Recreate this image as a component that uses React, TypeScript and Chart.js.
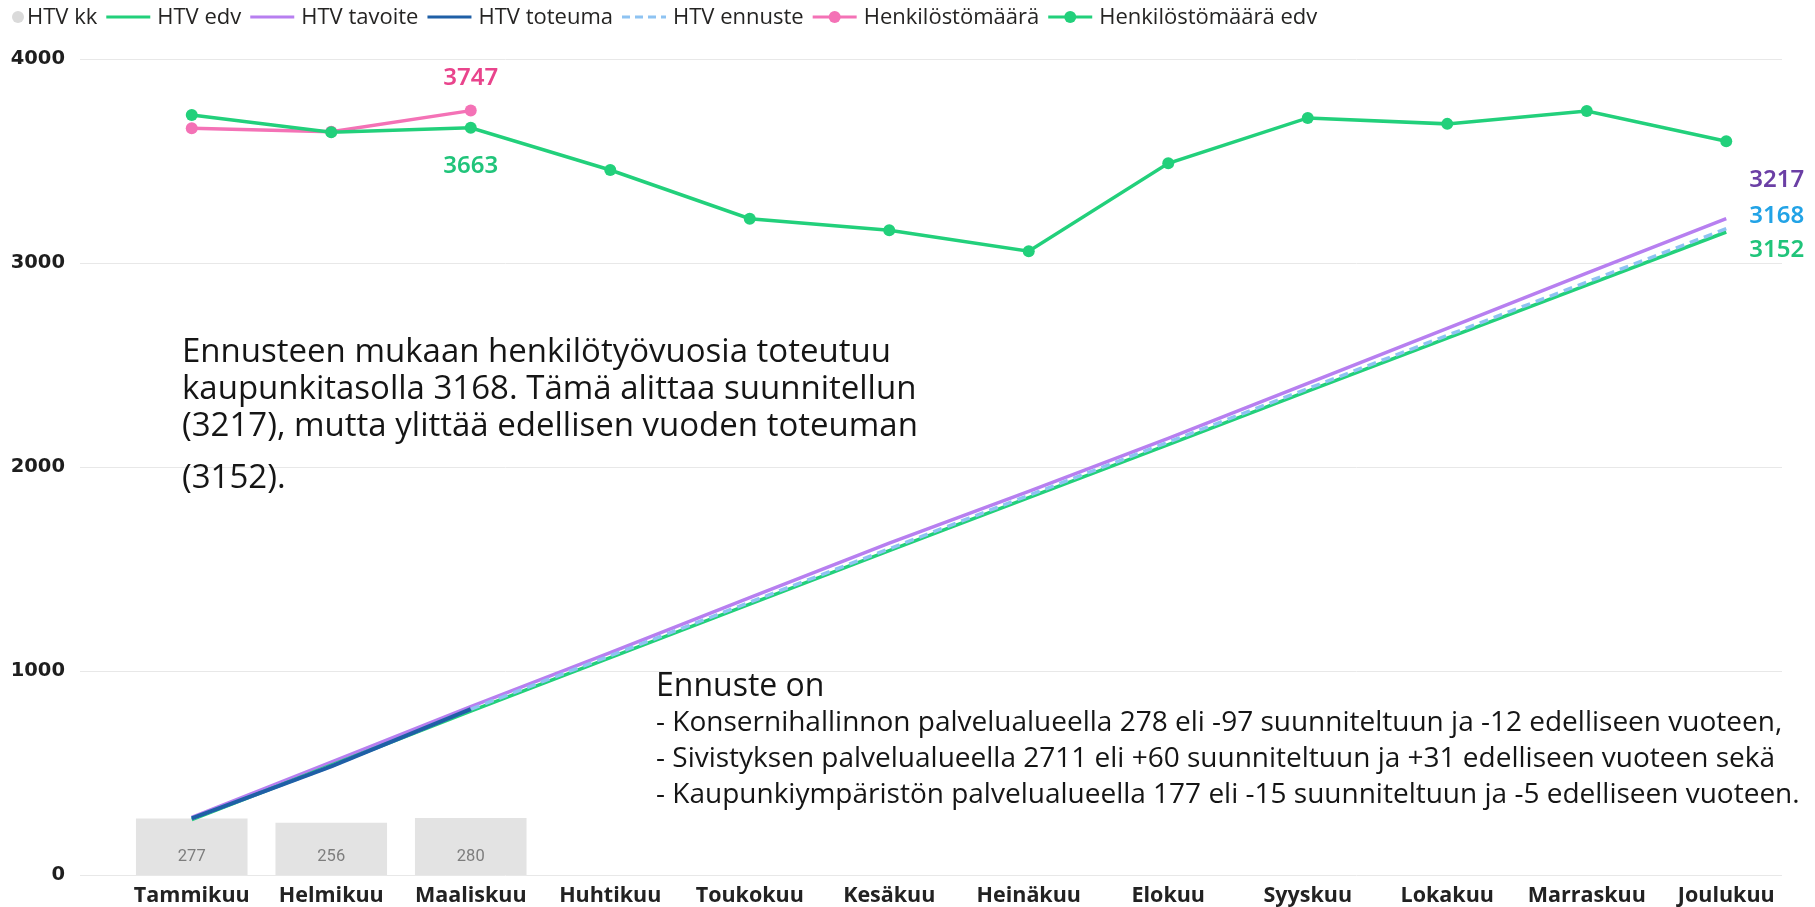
import React, { useEffect, useRef } from 'react';
import { Chart, registerables } from 'chart.js';

Chart.register(...registerables);

// ---------- data ----------
const months = ['Tammikuu', 'Helmikuu', 'Maaliskuu', 'Huhtikuu', 'Toukokuu', 'Kesäkuu', 'Heinäkuu', 'Elokuu', 'Syyskuu', 'Lokakuu', 'Marraskuu', 'Joulukuu'];
const htvKk = [277, 256, 280, null, null, null, null, null, null, null, null, null];
const htvEdv = [272, 538, 803, 1066, 1328, 1590, 1850, 2110, 2372, 2632, 2892, 3152];
const htvTavoite = [283, 553, 825, 1090, 1360, 1627, 1880, 2140, 2410, 2680, 2950, 3217];
const htvToteuma = [277, 533, 813, null, null, null, null, null, null, null, null, null];
const htvEnnuste = [277, 533, 813, 1075, 1337, 1599, 1861, 2122, 2384, 2645, 2906, 3168];
const henkilosto = [3660, 3643, 3747, null, null, null, null, null, null, null, null, null];
const henkilostoEdv = [3725, 3641, 3663, 3456, 3217, 3160, 3058, 3489, 3711, 3682, 3745, 3597];
const yTicks = [0, 1000, 2000, 3000, 4000];

const note1Lines = [
  'Ennusteen mukaan henkilötyövuosia toteutuu',
  'kaupunkitasolla 3168. Tämä alittaa suunnitellun',
  '(3217), mutta ylittää edellisen vuoden toteuman',
  '(3152).',
];
const note2Title = 'Ennuste on';
const note2Lines = [
  '- Konsernihallinnon palvelualueella 278 eli -97 suunniteltuun ja -12 edelliseen vuoteen,',
  '- Sivistyksen palvelualueella 2711 eli +60 suunniteltuun ja +31 edelliseen vuoteen sekä',
  '- Kaupunkiympäristön palvelualueella 177 eli -15 suunniteltuun ja -5 edelliseen vuoteen.',
];

// ---------- styles ----------
const C_GREEN = '#22d07b';
const C_PURPLE = '#b77ff0';
const C_DARKBLUE = '#1f5fa6';
const C_LIGHTBLUE = '#8ec3f2';
const C_PINK = '#f472b6';
const C_BAR = '#e3e3e3';

const lastIdx = (arr: (number | null)[]) => {
  let k = -1;
  arr.forEach((v, i) => { if (v !== null && v !== undefined) k = i; });
  return k;
};

function fitSize(ctx: CanvasRenderingContext2D, text: string, weight: string, family: string, target: number) {
  ctx.font = `${weight} 100px ${family}`;
  const w = ctx.measureText(text).width;
  return Math.round((100 * target / w) * 2) / 2;
}

const gridPlugin = {
  id: 'customGrid',
  beforeDatasetsDraw(chart: any) {
    const { ctx, chartArea, scales } = chart;
    const y = scales.y;
    ctx.save();
    ctx.strokeStyle = '#e8e8e8';
    ctx.lineWidth = 1;
    yTicks.forEach((v) => {
      const py = Math.round(y.getPixelForValue(v)) + 0.5;
      ctx.beginPath();
      ctx.moveTo(chartArea.left - 42, py);
      ctx.lineTo(chartArea.right - 14, py);
      ctx.stroke();
    });
    // y tick labels
    ctx.font = 'bold 19.5px "DejaVu Sans"';
    ctx.fillStyle = '#1e1e1e';
    ctx.textAlign = 'right';
    ctx.textBaseline = 'middle';
    yTicks.forEach((v) => {
      ctx.fillText(String(v), chartArea.left - 57, y.getPixelForValue(v));
    });
    ctx.restore();
  },
};

const legendPlugin = {
  id: 'customLegend',
  afterDraw(chart: any) {
    const ctx: CanvasRenderingContext2D = chart.ctx;
    ctx.save();
    ctx.font = '22px "Open Sans"';
    ctx.textBaseline = 'middle';
    ctx.textAlign = 'left';
    const cy = 17;
    let x = 12;
    chart.data.datasets.forEach((ds: any) => {
      if (ds.type === 'bar') {
        ctx.fillStyle = '#dadada';
        ctx.beginPath();
        ctx.arc(x + 6, cy, 6, 0, Math.PI * 2);
        ctx.fill();
        x += 15;
      } else {
        ctx.strokeStyle = ds.borderColor;
        ctx.lineWidth = 3;
        ctx.setLineDash(ds.borderDash && ds.borderDash.length ? [8, 5] : []);
        ctx.beginPath();
        ctx.moveTo(x, cy);
        ctx.lineTo(x + 44, cy);
        ctx.stroke();
        ctx.setLineDash([]);
        if (ds.pointRadius > 0) {
          ctx.fillStyle = ds.borderColor;
          ctx.beginPath();
          ctx.arc(x + 22, cy, 6, 0, Math.PI * 2);
          ctx.fill();
        }
        x += 51;
      }
      ctx.fillStyle = '#252423';
      ctx.fillText(ds.label, x, cy + 1);
      x += ctx.measureText(ds.label).width + 9;
    });
    ctx.restore();
  },
};

const labelPlugin = {
  id: 'valueLabels',
  afterDatasetsDraw(chart: any) {
    const ctx: CanvasRenderingContext2D = chart.ctx;
    const yScale = chart.scales.y;
    ctx.save();

    const barMeta = chart.getDatasetMeta(0);
    ctx.font = '16.5px Roboto';
    ctx.fillStyle = '#7d7d7d';
    ctx.textAlign = 'center';
    ctx.textBaseline = 'middle';
    htvKk.forEach((v, i) => {
      if (v === null) return;
      const el = barMeta.data[i];
      ctx.fillText(String(v), el.x, yScale.getPixelForValue(0) - 18);
    });

    ctx.font = '600 24px "Noto Sans"';
    const cur = lastIdx(henkilosto);
    const pinkMeta = chart.getDatasetMeta(5);
    const greenMeta = chart.getDatasetMeta(6);
    ctx.fillStyle = '#e9448c';
    ctx.fillText(String(henkilosto[cur]), pinkMeta.data[cur].x, pinkMeta.data[cur].y - 32);
    ctx.fillStyle = '#20c47a';
    ctx.fillText(String(henkilostoEdv[cur]), greenMeta.data[cur].x, greenMeta.data[cur].y + 38);

    ctx.textAlign = 'left';
    const end = months.length - 1;
    const ends: [number, (number | null)[], string, number][] = [
      [2, htvTavoite, '#6b3fa5', -39],
      [4, htvEnnuste, '#22a3e6', -13],
      [1, htvEdv, '#20c47a', 18],
    ];
    ends.forEach(([di, arr, col, dy]) => {
      const el = chart.getDatasetMeta(di).data[end];
      ctx.fillStyle = col;
      ctx.fillText(String(arr[end]), el.x + 23, el.y + dy);
    });
    ctx.restore();
  },
};

const notesPlugin = {
  id: 'notes',
  afterDraw(chart: any) {
    const ctx: CanvasRenderingContext2D = chart.ctx;
    ctx.save();
    ctx.fillStyle = '#151515';
    ctx.textAlign = 'left';
    ctx.textBaseline = 'alphabetic';
    const fam = '"Open Sans"';
    const s1 = fitSize(ctx, note1Lines[0], '400', fam, 707);
    ctx.font = `400 ${s1}px ${fam}`;
    const base1 = [362, 399, 436, 488];
    note1Lines.forEach((t, i) => ctx.fillText(t, 182, base1[i]));

    const sT = fitSize(ctx, note2Title, '400', fam, 169);
    ctx.font = `400 ${sT}px ${fam}`;
    ctx.fillText(note2Title, 656, 696);
    const s2 = fitSize(ctx, note2Lines[0], '400', fam, 1136);
    ctx.font = `400 ${s2}px ${fam}`;
    const base2 = [731, 767, 803];
    note2Lines.forEach((t, i) => ctx.fillText(t, 656, base2[i]));
    ctx.restore();
  },
};

export default function App() {
  const ref = useRef<HTMLCanvasElement | null>(null);
  useEffect(() => {
    if (!ref.current) return;
    const chart = new Chart(ref.current, {
      type: 'bar',
      data: {
        labels: months,
        datasets: [
          { type: 'bar', label: 'HTV kk', data: htvKk, backgroundColor: C_BAR, barPercentage: 0.8, categoryPercentage: 1, order: 10 } as any,
          { type: 'line', label: 'HTV edv', data: htvEdv, borderColor: C_GREEN, backgroundColor: C_GREEN, borderWidth: 3.5, pointRadius: 0, order: 5 } as any,
          { type: 'line', label: 'HTV tavoite', data: htvTavoite, borderColor: C_PURPLE, backgroundColor: C_PURPLE, borderWidth: 3.5, pointRadius: 0, order: 6 } as any,
          { type: 'line', label: 'HTV toteuma', data: htvToteuma, borderColor: C_DARKBLUE, backgroundColor: C_DARKBLUE, borderWidth: 4, pointRadius: 0, order: 2 } as any,
          { type: 'line', label: 'HTV ennuste', data: htvEnnuste, borderColor: C_LIGHTBLUE, backgroundColor: C_LIGHTBLUE, borderWidth: 3.5, borderDash: [9, 6], pointRadius: 0, order: 4 } as any,
          { type: 'line', label: 'Henkilöstömäärä', data: henkilosto, borderColor: C_PINK, backgroundColor: C_PINK, pointBackgroundColor: C_PINK, pointBorderWidth: 0, borderWidth: 3.5, pointRadius: 6, order: 1 } as any,
          { type: 'line', label: 'Henkilöstömäärä edv', data: henkilostoEdv, borderColor: C_GREEN, backgroundColor: C_GREEN, pointBackgroundColor: C_GREEN, pointBorderWidth: 0, borderWidth: 3.5, pointRadius: 6, order: 0 } as any,
        ],
      },
      options: {
        responsive: false,
        animation: false,
        events: [],
        layout: { padding: { top: 59, right: 19, bottom: 0, left: 0 } },
        plugins: { legend: { display: false }, tooltip: { enabled: false } },
        scales: {
          x: {
            grid: { display: false, drawTicks: false },
            border: { display: false },
            ticks: { padding: 8, autoSkip: false, maxRotation: 0, color: '#222', font: { family: 'Open Sans', weight: 'bold', size: 21.5 } },
            afterFit: (s: any) => { s.height = 32; },
          },
          y: {
            min: 0,
            max: 4000,
            afterBuildTicks: (s: any) => { s.ticks = yTicks.map((v) => ({ value: v })); },
            grid: { display: false, drawTicks: false },
            border: { display: false },
            ticks: { display: false },
            afterFit: (s: any) => { s.width = 122; },
          },
        },
      } as any,
      plugins: [gridPlugin, legendPlugin, labelPlugin, notesPlugin],
    });
    return () => chart.destroy();
  }, []);
  return (
    <div style={{ position: 'fixed', left: 0, top: 0, width: 1815, height: 907, background: '#fff' }}>
      <canvas ref={ref} width={1815} height={907} style={{ display: 'block' }} />
    </div>
  );
}
